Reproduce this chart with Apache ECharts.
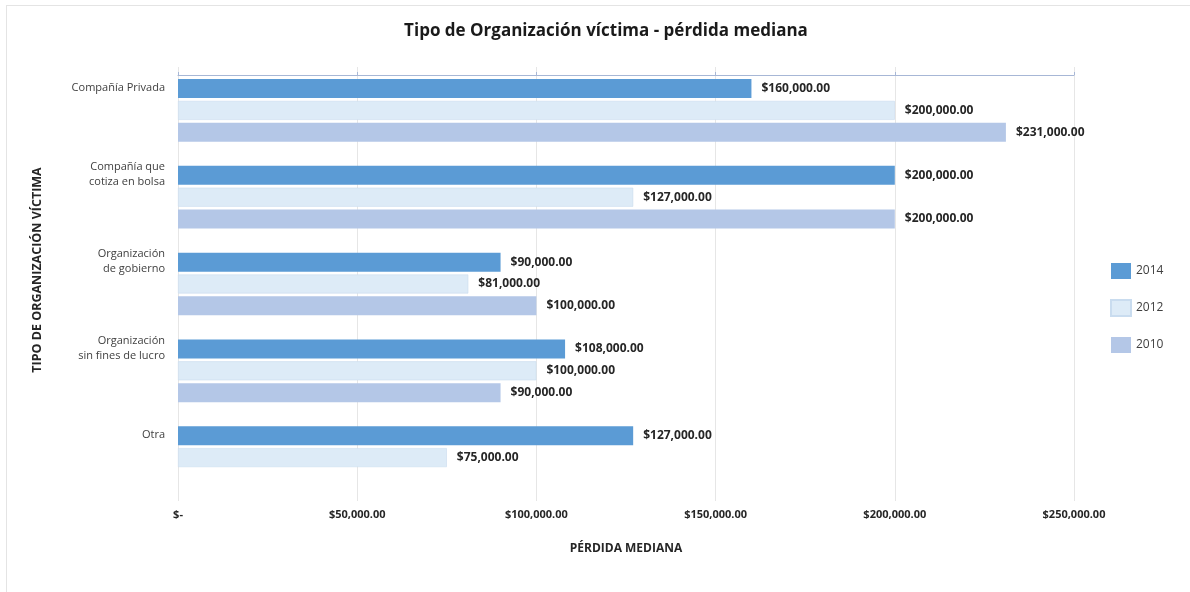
<!DOCTYPE html>
<html>
<head>
<meta charset="utf-8">
<script src="https://cdn.jsdelivr.net/npm/echarts@6/dist/echarts.min.js"></script>
<style>
  body { margin: 0; background: #fff; }
  #frame { position: absolute; left: 6px; top: 5px; width: 1184px; height: 590px; border-left: 1px solid #e4e4e4; border-top: 1px solid #e4e4e4; pointer-events: none; }
  #Chart { width: 1190px; height: 592px; }
</style>
</head>
<body>
<div id="Chart"></div>
<div id="frame"></div>
<script>
// categories, top to bottom
var categories = ['Compañía Privada', 'Compañía que\ncotiza en bolsa', 'Organización\nde gobierno', 'Organización\nsin fines de lucro', 'Otra'];
var years = ['2014', '2012', '2010'];
var v2014 = [160000, 200000, 90000, 108000, 127000];
var v2012 = [200000, 127000, 81000, 100000, 75000];
var v2010 = [231000, 200000, 100000, 90000, null];
var xTicks = [0, 50000, 100000, 150000, 200000, 250000];

var colors = ['#5b9bd5', '#ddebf7', '#b4c7e7'];
var borders = ['#4f8ac0', '#c9dcef', '#a3b8dc'];

function money(v) {
  if (!v) return '$-';
  return '$' + v.toLocaleString('en-US', {minimumFractionDigits: 2, maximumFractionDigits: 2});
}

var font = '"Open Sans", "DejaVu Sans", sans-serif';
var seriesData = [v2014, v2012, v2010];

var chart = echarts.init(document.getElementById('Chart'));
chart.setOption({
  animation: false,
  textStyle: {fontFamily: font},
  title: {
    text: 'Tipo de Organización víctima - pérdida mediana',
    left: 601, top: 18, textAlign: 'center',
    textStyle: {fontFamily: font, fontSize: 17, fontWeight: 'bold', color: '#1a1a1a'}
  },
  legend: {
    orient: 'vertical', left: 1105, top: 258,
    itemWidth: 20, itemHeight: 16, itemGap: 20,
    icon: 'rect',
    data: years,
    textStyle: {fontFamily: font, fontSize: 12, color: '#404040'}
  },
  grid: {left: 178, right: 116, top: 67, height: 434},
  xAxis: [
    {
      type: 'value', min: xTicks[0], max: xTicks[xTicks.length - 1], interval: 50000,
      position: 'bottom',
      axisLine: {show: false}, axisTick: {show: false},
      splitLine: {lineStyle: {color: '#e6e6e6'}},
      axisLabel: {formatter: money, fontFamily: font, fontSize: 11, fontWeight: 'bold', color: '#262626', margin: 8},
      name: 'PÉRDIDA MEDIANA', nameLocation: 'middle', nameGap: 42,
      nameTextStyle: {fontFamily: font, fontSize: 12, fontWeight: 'bold', color: '#262626'}
    },
    {
      type: 'value', min: xTicks[0], max: xTicks[xTicks.length - 1], interval: 50000,
      position: 'top', offset: -8,
      axisLine: {show: true, lineStyle: {color: '#a7b7d6'}},
      axisTick: {show: true, inside: false, length: 3, lineStyle: {color: '#a7b7d6'}},
      axisLabel: {show: false}, splitLine: {show: false}
    }
  ],
  yAxis: {
    type: 'category', inverse: true, data: categories,
    axisLine: {show: false}, axisTick: {show: false},
    axisLabel: {
      fontFamily: font, fontSize: 11, color: '#404040', margin: 13, lineHeight: 15, align: 'right',
      // trailing blank lines lift the label up to the 2014 bar, as in the original
      formatter: function (v) { return v + '\n \n \n '; }
    },
    name: 'TIPO DE ORGANIZACIÓN VÍCTIMA', nameLocation: 'middle', nameGap: 134, nameRotate: 90,
    nameTextStyle: {fontFamily: font, fontSize: 12.5, fontWeight: 'bold', color: '#262626', padding: [0, 0, 0, 28]}
  },
  series: years.map(function (y, i) {
    return {
      name: y, type: 'bar', xAxisIndex: 0,
      data: seriesData[i],
      barWidth: 19, barGap: '15%',
      itemStyle: {color: colors[i], borderColor: borders[i], borderWidth: i === 1 ? 0.6 : 0},
      label: {
        show: true, position: 'right', distance: 10,
        formatter: function (p) { return money(p.value); },
        fontFamily: font, fontSize: 12, fontWeight: 'bold', color: '#262626'
      }
    };
  })
});
</script>
</body>
</html>
